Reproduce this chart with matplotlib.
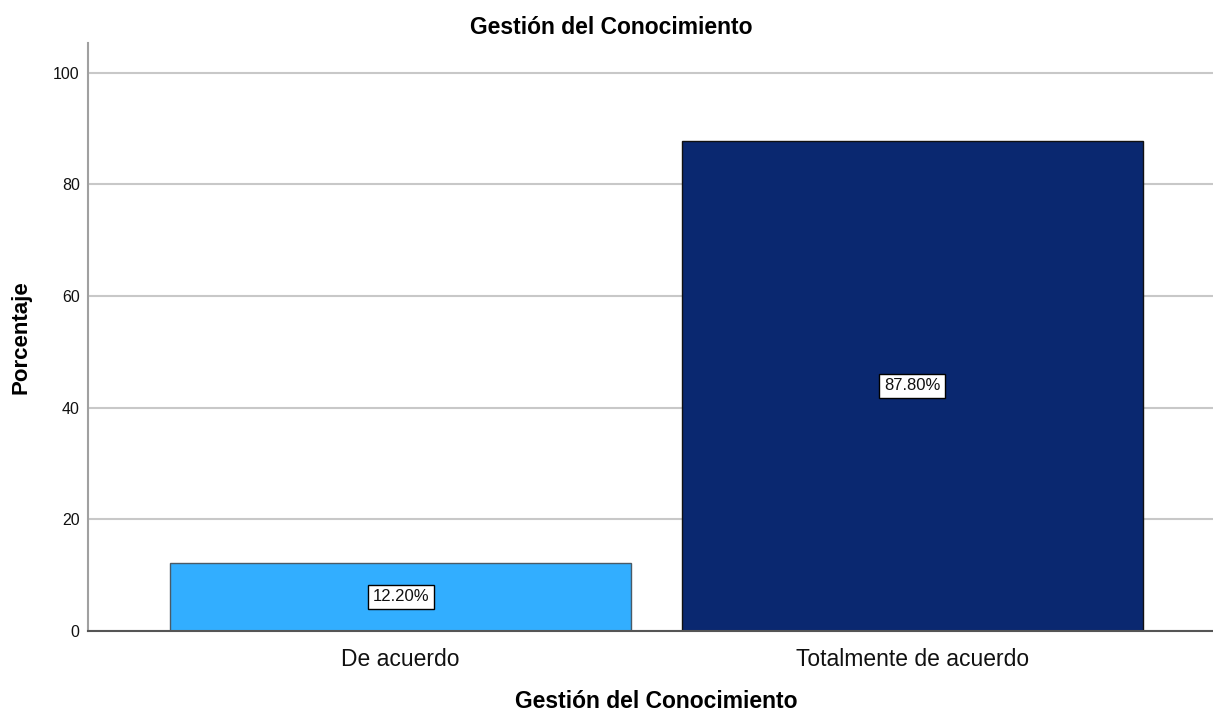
import matplotlib as mpl
mpl.use('Agg')
import matplotlib.pyplot as plt

categorias = ['De acuerdo', 'Totalmente de acuerdo']
porcentajes = [12.20, 87.80]
colores = ['#32AEFF', '#0A2870']
bordes = ['#4a5a66', '#111111']
yticks = [0, 20, 40, 60, 80, 100]

plt.rcParams['font.family'] = ['Liberation Sans', 'DejaVu Sans']

fig = plt.figure(figsize=(12.13, 7.13), dpi=100)
ax = fig.add_axes([88/1213, 1-631/713, 1-88/1213, (631-43)/713])

x = list(range(len(categorias)))
bars = ax.bar(x, porcentajes, width=0.901, color=colores, edgecolor=bordes,
              linewidth=1.0, zorder=3)

for xi, v in zip(x, porcentajes):
    ax.text(xi, v/2, '%.2f%%' % v, ha='center', va='center', fontsize=12,
            color='#111111', zorder=4,
            bbox=dict(boxstyle='square,pad=0.28', facecolor='white',
                      edgecolor='black', linewidth=1.0))

ax.set_xlim(-0.611, 1.588)
ax.set_ylim(0, 105.3)
ax.set_yticks(yticks)
ax.set_xticks(x)
ax.set_xticklabels(categorias, fontsize=16.5, color='#111111')
ax.tick_params(axis='y', length=0, pad=6, labelsize=11.5, labelcolor='#111111')
ax.tick_params(axis='x', length=0, pad=12)
ax.yaxis.grid(True, color='#c8c8c8', linewidth=1.5, zorder=0)
ax.set_axisbelow(True)

for s in ['top', 'right']:
    ax.spines[s].set_visible(False)
ax.spines['left'].set_color('#a0a0a0')
ax.spines['left'].set_linewidth(1.5)
ax.spines['bottom'].set_color('#555555')
ax.spines['bottom'].set_linewidth(1.5)
ax.spines['bottom'].set_zorder(5)

ax.set_ylabel('Porcentaje', fontsize=16, fontweight='bold', va='center')
ax.yaxis.set_label_coords(-(88-21)/1125, 0.5)
ax.set_xlabel('Gestión del Conocimiento', fontsize=16.5, fontweight='bold',
              va='center')
ax.xaxis.set_label_coords((656-88)/1125, -(701-631)/588)
fig.text(611/1213, 1-28/713, 'Gestión del Conocimiento', ha='center',
         va='center', fontsize=16.5, fontweight='bold')

plt.savefig('out.png', dpi=100)
